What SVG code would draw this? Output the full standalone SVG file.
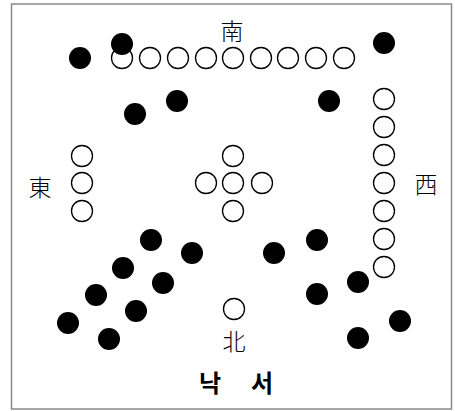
<svg xmlns="http://www.w3.org/2000/svg" width="455" height="411" viewBox="0 0 455 411">
<style>
.o{fill:#fff;stroke:#000;stroke-width:1.3}
.b{fill:#000}
.t{font-family:"Noto Sans CJK KR","Noto Sans CJK SC",sans-serif;font-size:23px;font-weight:300;fill:#000;text-anchor:middle}
.k{font-family:"Noto Sans CJK KR",sans-serif;font-size:24px;font-weight:bold;fill:#000;text-anchor:middle}
</style>
<rect width="455" height="411" fill="#fff"/>
<rect x="11.5" y="4" width="440" height="405" fill="none" stroke="#8a8a8a" stroke-width="1.5"/>
<g id="open">
<g id="top-row">
<circle class="o" cx="122" cy="58" r="10.5"/>
<circle class="o" cx="150" cy="58" r="10.5"/>
<circle class="o" cx="178" cy="58" r="10.5"/>
<circle class="o" cx="206" cy="58" r="10.5"/>
<circle class="o" cx="233" cy="58" r="10.5"/>
<circle class="o" cx="261" cy="58" r="10.5"/>
<circle class="o" cx="288" cy="58" r="10.5"/>
<circle class="o" cx="316" cy="58" r="10.5"/>
<circle class="o" cx="344" cy="58" r="10.5"/>
</g>
<g id="right-col">
<circle class="o" cx="384" cy="99" r="10.5"/>
<circle class="o" cx="384" cy="127" r="10.5"/>
<circle class="o" cx="384" cy="155" r="10.5"/>
<circle class="o" cx="384" cy="183" r="10.5"/>
<circle class="o" cx="384" cy="211" r="10.5"/>
<circle class="o" cx="384" cy="239" r="10.5"/>
<circle class="o" cx="384" cy="267" r="10.5"/>
</g>
<g id="left-col">
<circle class="o" cx="82" cy="156" r="10.5"/>
<circle class="o" cx="82" cy="183" r="10.5"/>
<circle class="o" cx="82" cy="211" r="10.5"/>
</g>
<g id="center">
<circle class="o" cx="233" cy="156" r="10.5"/>
<circle class="o" cx="206" cy="183" r="10.5"/>
<circle class="o" cx="233" cy="183" r="10.5"/>
<circle class="o" cx="262" cy="183" r="10.5"/>
<circle class="o" cx="233" cy="211" r="10.5"/>
</g>
<g id="bottom-one">
<circle class="o" cx="234" cy="309" r="10.5"/>
</g>
</g>
<g id="filled">
<g id="top-filled">
<circle class="b" cx="80" cy="58" r="11"/>
<circle class="b" cx="122" cy="44" r="11"/>
<circle class="b" cx="384" cy="43" r="11"/>
<circle class="b" cx="135" cy="114" r="11"/>
<circle class="b" cx="177" cy="101" r="11"/>
<circle class="b" cx="329" cy="101" r="11"/>
</g>
<g id="bottom-left-filled">
<circle class="b" cx="151" cy="240" r="11"/>
<circle class="b" cx="123" cy="268" r="11"/>
<circle class="b" cx="96" cy="295" r="11"/>
<circle class="b" cx="68" cy="323" r="11"/>
<circle class="b" cx="192" cy="253" r="11"/>
<circle class="b" cx="163" cy="283" r="11"/>
<circle class="b" cx="136" cy="311" r="11"/>
<circle class="b" cx="109" cy="339" r="11"/>
</g>
<g id="bottom-right-filled">
<circle class="b" cx="274" cy="253" r="11"/>
<circle class="b" cx="317" cy="240" r="11"/>
<circle class="b" cx="317" cy="294" r="11"/>
<circle class="b" cx="358" cy="282" r="11"/>
<circle class="b" cx="400" cy="321" r="11"/>
<circle class="b" cx="358" cy="338" r="11"/>
</g>
</g>
<g id="labels">
<text class="t" x="232" y="40">南</text>
<text class="t" x="40" y="196">東</text>
<text class="t" x="426" y="193">西</text>
<text class="t" x="234" y="350">北</text>
<text class="k" x="210" y="392">낙</text>
<text class="k" x="262" y="392">서</text>
</g>
</svg>
